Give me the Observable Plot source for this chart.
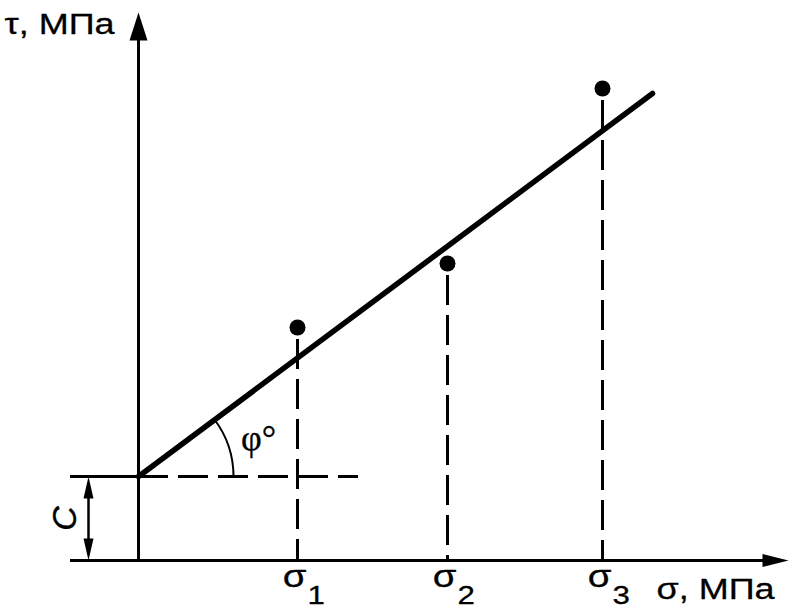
<!DOCTYPE html>
<html><head><meta charset="utf-8">
<script src="https://cdn.jsdelivr.net/npm/d3@7"></script>
<script src="https://cdn.jsdelivr.net/npm/@observablehq/plot@0.6"></script>
<style>html,body{margin:0;padding:0;background:#fff} svg{display:block}</style>
</head><body><div id="chart"></div>
<script>
// ---- data (σ and τ in arbitrary units, origin at the axes' crossing) ----
const sigmaPoints = [1.59, 3.09, 4.64];     // σ1, σ2, σ3
const tauPoints   = [2.33, 2.97, 4.72];     // measured τ at each σ
const sigmaSubs   = ["1", "2", "3"];
const cohesion    = 0.84;                   // C (intercept)
const fitStart    = [0, 0.84];
const fitEnd      = [5.14, 4.67];
const xAxisSpan   = [-0.68, 6.50];
const yAxisSpan   = [0, 5.48];
const cLineEnd    = 2.20;
const cDimX       = -0.50;
const arcRadius   = 0.95;
const labelTau    = "τ, МПа";
const labelSigma  = "σ, МПа";
const labelPhi    = "φ°";
const labelC      = "C";

const points = sigmaPoints.map((s, i) => ({s, t: tauPoints[i], sub: sigmaSubs[i]}));
const slope = (fitEnd[1] - fitStart[1]) / (fitEnd[0] - fitStart[0]);
const ang = Math.atan(slope);
const arc = [{x1: arcRadius, y1: cohesion, x2: arcRadius * Math.cos(ang), y2: cohesion + arcRadius * Math.sin(ang)}];

function head(L, w) {
  return {draw(ctx) { ctx.moveTo(0, 0); ctx.lineTo(w, L); ctx.lineTo(-w, L); ctx.closePath(); }};
}

const sans = "Liberation Sans, Arial, sans-serif";
const txt = {fill: "black", stroke: "black", strokeWidth: 0.3, fontFamily: sans};

const chart = Plot.plot({
  width: 794, height: 609,
  margin: 0,
  x: {domain: [-1.38, 6.56], axis: null},
  y: {domain: [-0.49, 5.60], axis: null},
  marks: [
    // axes
    Plot.ruleY([0], {x1: xAxisSpan[0], x2: xAxisSpan[1] - 0.2, strokeWidth: 3, stroke: "black"}),
    Plot.ruleX([0], {y1: yAxisSpan[0], y2: yAxisSpan[1] - 0.2, strokeWidth: 3, stroke: "black"}),
    Plot.dot([{x: xAxisSpan[1], y: 0}], {x: "x", y: "y", symbol: head(26, 6.5), rotate: 90, fill: "black", stroke: "none"}),
    Plot.dot([{x: 0, y: yAxisSpan[1]}], {x: "x", y: "y", symbol: head(28, 9), rotate: 0, fill: "black", stroke: "none"}),
    // cohesion line
    Plot.ruleY([cohesion], {x1: xAxisSpan[0], x2: 0, strokeWidth: 3, stroke: "black"}),
    Plot.ruleY([cohesion], {x1: 0, x2: cLineEnd, strokeWidth: 3, stroke: "black", strokeDasharray: "30,10"}),
    // droplines
    Plot.ruleX(points, {x: "s", y1: "t", y2: 0, strokeWidth: 3, stroke: "black", strokeDasharray: "30,10", strokeDashoffset: -12}),
    // fitted line
    Plot.line([fitStart, fitEnd], {x: d => d[0], y: d => d[1], strokeWidth: 5.5, stroke: "black"}),
    // points
    Plot.dot(points, {x: "s", y: "t", r: 8, fill: "black", stroke: "none"}),
    // angle arc
    Plot.arrow(arc, {x1: "x1", y1: "y1", x2: "x2", y2: "y2", bend: -ang * 90 / Math.PI, headLength: 0, strokeWidth: 2, stroke: "black"}),
    // C dimension
    Plot.ruleX([cDimX], {y1: 0.15, y2: cohesion - 0.15, strokeWidth: 2.5, stroke: "black"}),
    Plot.dot([{x: cDimX, y: cohesion}], {x: "x", y: "y", symbol: head(22, 5), rotate: 0, fill: "black", stroke: "none"}),
    Plot.dot([{x: cDimX, y: 0}], {x: "x", y: "y", symbol: head(22, 5), rotate: 180, fill: "black", stroke: "none"}),
    // text
    Plot.text([labelTau], {...txt, x: -1.34, y: 5.36, text: d => d, textAnchor: "start", fontSize: 30, className: "wide"}),
    Plot.text([labelSigma], {...txt, x: 5.18, y: -0.29, text: d => d, textAnchor: "start", fontSize: 30, className: "wide"}),
    Plot.text(points, {...txt, x: "s", y: -0.16, text: () => "σ", dx: -3, fontSize: 32, className: "wide"}),
    Plot.text(points, {...txt, x: "s", y: -0.35, text: "sub", dx: 10, textAnchor: "start", fontSize: 26, className: "wide"}),
    Plot.text([labelPhi], {...txt, x: 1.20, y: 1.22, text: d => d, fontSize: 36, fontFamily: "Liberation Serif, serif"}),
    Plot.text([labelC], {...txt, x: -0.73, y: 0.42, text: d => d, rotate: -90, fontSize: 34, fontStyle: "italic"})
  ]
});

document.getElementById("chart").append(chart);
d3.select(chart).selectAll("g.wide text").each(function() {
  const w = this.getComputedTextLength();
  d3.select(this).attr("textLength", w * 1.2).attr("lengthAdjust", "spacingAndGlyphs");
});
</script>
</body></html>
